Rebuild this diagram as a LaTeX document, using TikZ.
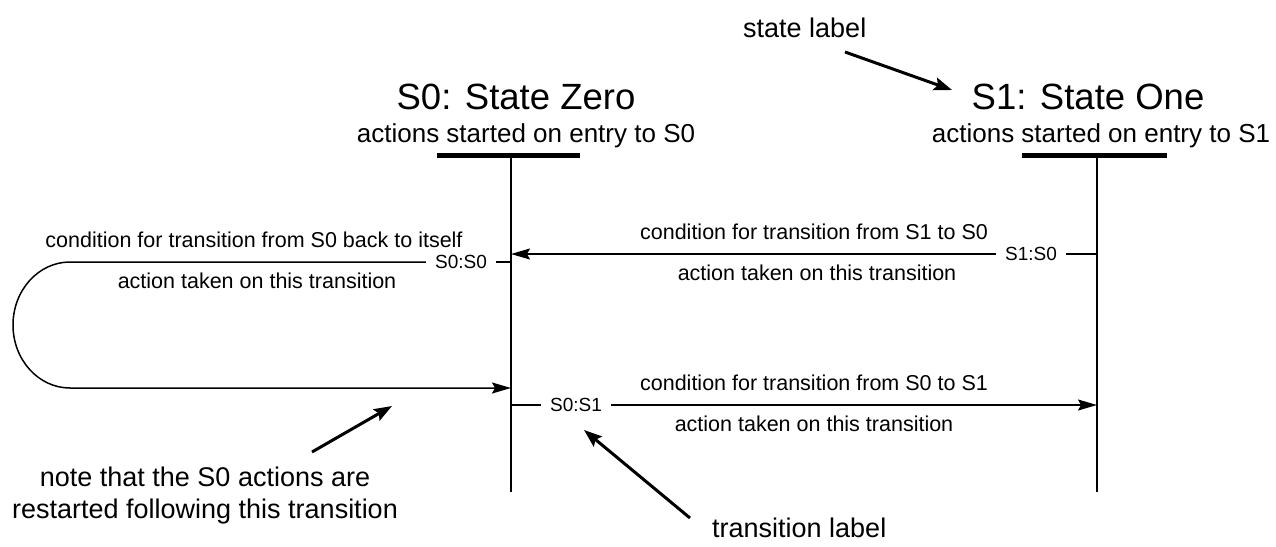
\documentclass[tikz,border=0pt]{standalone}
\usepackage{fontspec}
\setmainfont{Liberation Sans}
\usetikzlibrary{arrows.meta}
\begin{document}
\begin{tikzpicture}[x=1pt,y=-1pt,
  title/.style={font=\fontsize{36.5}{40}\selectfont, anchor=base, inner sep=0pt},
  entry/.style={font=\fontsize{26}{30}\selectfont, anchor=base, inner sep=0pt},
  remark/.style={font=\fontsize{27}{32}\selectfont, inner sep=0pt},
  cond/.style={font=\fontsize{21.5}{24}\selectfont, anchor=base, inner sep=0pt},
  tlabel/.style={font=\fontsize{19}{21}\selectfont, inner xsep=9pt, inner ysep=0pt},
  bar/.style={line width=5pt},
  life/.style={line width=2.5pt},
  tline/.style={line width=1.5pt},
  tarrow/.style={line width=1.5pt, -{Stealth[length=19pt,width=11pt,inset=3pt]}},
  ann/.style={line width=3pt, -{Stealth[length=18pt,width=13pt,inset=3pt]}}
]
\useasboundingbox (0,0) rectangle (1276,546);

% state headings
\node[title] (t0) at (516,109) {S0: State Zero};
\node[entry] (e0) at (526,142) {actions started on entry to S0};
\node[title] (t1) at (1088,109) {S1: State One};
\node[entry] (e1) at (1101,142) {actions started on entry to S1};

% entry bars and lifelines
\coordinate (b0l) at (437,155);
\coordinate (b0r) at (580,155);
\coordinate (b1l) at (1022,155);
\coordinate (b1r) at (1167,155);
\coordinate (l0top) at (511,155);
\coordinate (l0bot) at (511,492);
\coordinate (l1top) at (1097,155);
\coordinate (l1bot) at (1097,492);
\draw[bar] (b0l) -- (b0r);
\draw[bar] (b1l) -- (b1r);
\draw[life] (l0top) -- (l0bot);
\draw[life] (l1top) -- (l1bot);

% S1 -> S0
\coordinate (s10from) at (1097,254);
\coordinate (s10to) at (511,254);
\node[tlabel] (s10) at (1031,254) {S1:S0};
\draw[tline] (s10from) -- (s10.east);
\draw[tarrow] (s10.west) -- (s10to);
\node[cond] (c10) at (814,239) {condition for transition from S1 to S0};
\node[cond] (a10) at (817,280) {action taken on this transition};

% S0 -> S0
\coordinate (s00from) at (511,262);
\coordinate (loopTop) at (70,262);
\coordinate (s00to) at (511,388);
\node[tlabel] (s00) at (461,262) {S0:S0};
\draw[tline] (s00from) -- (s00.east);
\draw[tarrow] (s00.west) -- (loopTop)
  arc[start angle=-90, end angle=-270, x radius=57, y radius=63] -- (s00to);
\node[cond] (c00) at (254,247) {condition for transition from S0 back to itself};
\node[cond] (a00) at (257,288) {action taken on this transition};

% S0 -> S1
\coordinate (s01from) at (511,405);
\coordinate (s01to) at (1097,405);
\node[tlabel] (s01) at (576,405) {S0:S1};
\draw[tline] (s01from) -- (s01.west);
\draw[tarrow] (s01.east) -- (s01to);
\node[cond] (c01) at (814,390) {condition for transition from S0 to S1};
\node[cond] (a01) at (814,431) {action taken on this transition};

% annotations
\node[remark, anchor=base west] (sl) at (743,37) {state label};
\coordinate (slTail) at (845,52);
\coordinate (slTip) at (952,90);
\draw[ann] (slTail) -- (slTip);

\node[remark, anchor=base, align=center] (nt1) at (205,486) {note that the S0 actions are};
\node[remark, anchor=base, align=center] (nt2) at (205,518) {restarted following this transition};
\coordinate (ntTail) at (312,452);
\coordinate (ntTip) at (392,406);
\draw[ann] (ntTail) -- (ntTip);

\node[remark, anchor=base west] (tl) at (712,537) {transition label};
\coordinate (tlTail) at (690,518);
\coordinate (tlTip) at (584,430);
\draw[ann] (tlTail) -- (tlTip);
\end{tikzpicture}
\end{document}
